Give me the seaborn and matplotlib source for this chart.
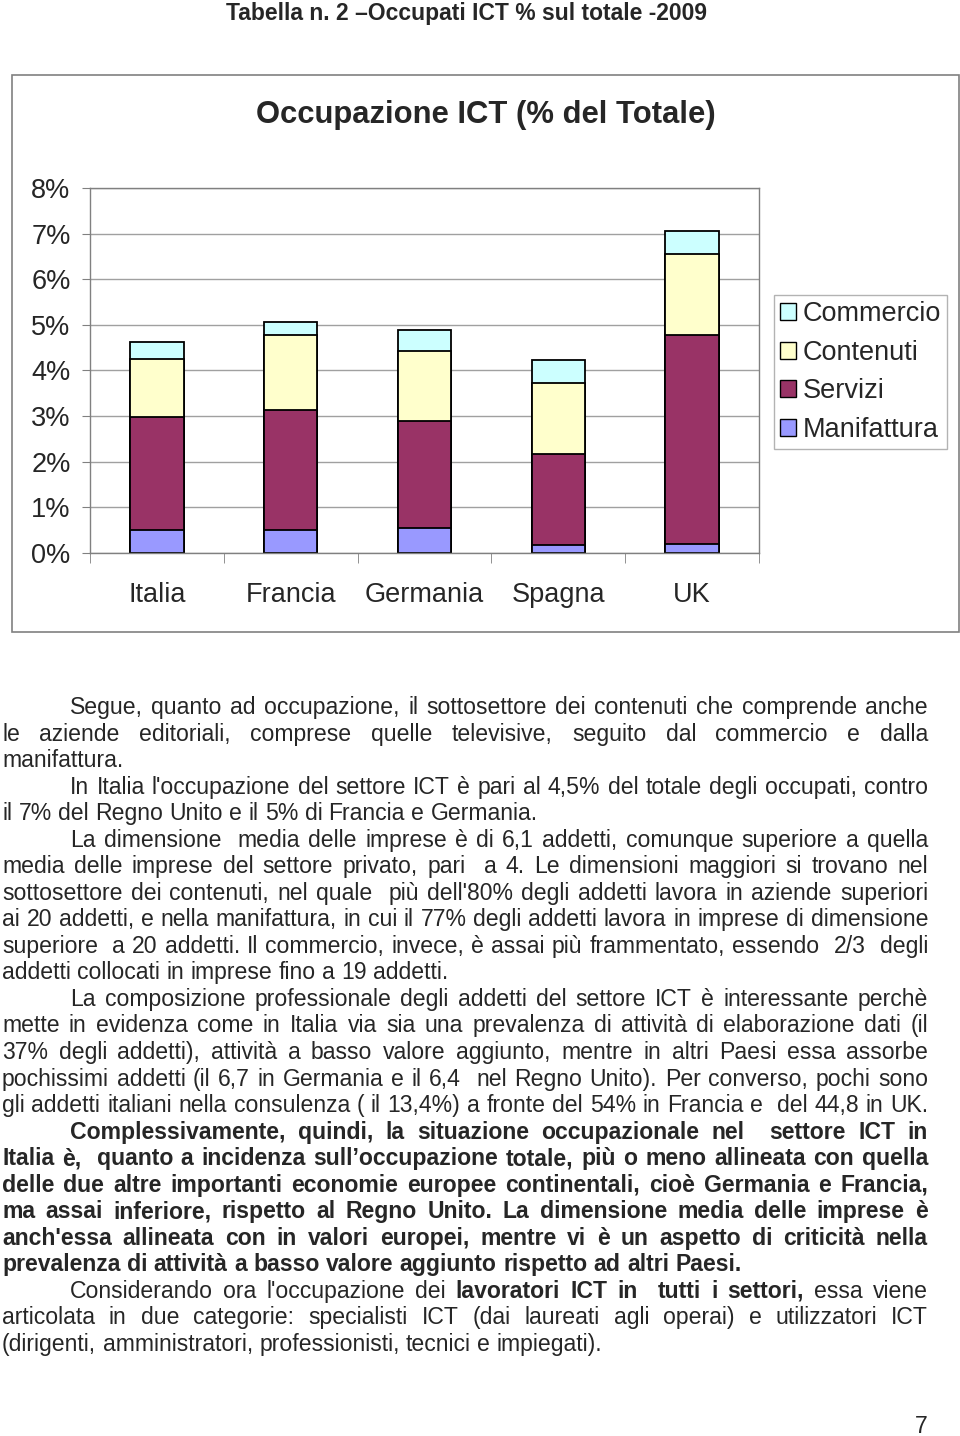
import numpy as np
import matplotlib
matplotlib.use("Agg")
import matplotlib.pyplot as plt
import seaborn as sns
from matplotlib.patches import Patch, Rectangle

# dati (% sul totale degli occupati, 2009)
paesi = ["Italia", "Francia", "Germania", "Spagna", "UK"]
manifattura = [0.50, 0.51, 0.54, 0.17, 0.20]
servizi = [2.48, 2.63, 2.36, 2.01, 4.58]
contenuti = [1.27, 1.63, 1.52, 1.54, 1.77]
commercio = [0.37, 0.30, 0.47, 0.51, 0.50]

settori = ["Commercio", "Contenuti", "Servizi", "Manifattura"]
colori = ["#CCFFFF", "#FFFFCC", "#993366", "#9999FF"]
y_ticks = list(range(9))
y_labels = [f"{v}%" for v in y_ticks]

titolo_pagina = "Tabella n. 2 \u2013Occupati ICT % sul totale -2009"
titolo_grafico = "Occupazione ICT (% del Totale)"

# testo della pagina: (riga, rientro, giustificata); ** = grassetto
righe = [
    ("Segue, quanto ad occupazione, il sottosettore dei contenuti che comprende anche", True, True),
    ("le aziende editoriali, comprese quelle televisive, seguito dal commercio e dalla", False, True),
    ("manifattura.", False, False),
    ("In Italia l'occupazione del settore ICT è pari al 4,5% del totale degli occupati, contro", True, True),
    ("il 7% del Regno Unito e il 5% di Francia e Germania.", False, False),
    ("La dimensione  media delle imprese è di 6,1 addetti, comunque superiore a quella", True, True),
    ("media delle imprese del settore privato, pari  a 4. Le dimensioni maggiori si trovano nel", False, True),
    ("sottosettore dei contenuti, nel quale  più dell'80% degli addetti lavora in aziende superiori", False, True),
    ("ai 20 addetti, e nella manifattura, in cui il 77% degli addetti lavora in imprese di dimensione", False, True),
    ("superiore  a 20 addetti. Il commercio, invece, è assai più frammentato, essendo  2/3  degli", False, True),
    ("addetti collocati in imprese fino a 19 addetti.", False, False),
    ("La composizione professionale degli addetti del settore ICT è interessante perchè", True, True),
    ("mette in evidenza come in Italia via sia una prevalenza di attività di elaborazione dati (il", False, True),
    ("37% degli addetti), attività a basso valore aggiunto, mentre in altri Paesi essa assorbe", False, True),
    ("pochissimi addetti (il 6,7 in Germania e il 6,4  nel Regno Unito). Per converso, pochi sono", False, True),
    ("gli addetti italiani nella consulenza ( il 13,4%) a fronte del 54% in Francia e  del 44,8 in UK.", False, True),
    ("**Complessivamente, quindi, la situazione occupazionale nel  settore ICT in**", True, True),
    ("**Italia è,  quanto a incidenza sull\u2019occupazione totale, più o meno allineata con quella**", False, True),
    ("**delle due altre importanti economie europee continentali, cioè Germania e Francia,**", False, True),
    ("**ma assai inferiore, rispetto al Regno Unito. La dimensione media delle imprese è**", False, True),
    ("**anch'essa allineata con in valori europei, mentre vi è un aspetto di criticità nella**", False, True),
    ("**prevalenza di attività a basso valore aggiunto rispetto ad altri Paesi.**", False, False),
    ("Considerando ora l'occupazione dei **lavoratori ICT in  tutti i settori,** essa viene", True, True),
    ("articolata in due categorie: specialisti ICT (dai laureati agli operai) e utilizzatori ICT", False, True),
    ("(dirigenti, amministratori, professionisti, tecnici e impiegati).", False, False),
]

W, H = 960, 1436
sns.set_style("white")
plt.rcParams["font.family"] = ["Liberation Sans", "DejaVu Sans"]


def fx(px):
    return px / W


def fy(py):
    return 1 - py / H


fig = plt.figure(figsize=(W / 100, H / 100), dpi=100)
renderer = fig.canvas.get_renderer()

# cornice del grafico
fig.patches.append(Rectangle((fx(12), fy(632)), (959 - 12) / W, (632 - 75) / H,
                             transform=fig.transFigure, fill=False,
                             edgecolor="#808080", lw=1.2))

ax = fig.add_axes([fx(90), fy(553), (759 - 90) / W, (553 - 188) / H])
ax.set_axisbelow(True)

strati = np.cumsum([manifattura, servizi, contenuti, commercio], axis=0)
for i in range(3, -1, -1):
    sns.barplot(x=paesi, y=strati[i], color=colori[3 - i], saturation=1,
                edgecolor="black", linewidth=1.3, width=0.4, errorbar=None, ax=ax)

ax.set_ylim(0, 8)
ax.set_xlim(-0.5, 4.5)
ax.set_yticks(y_ticks)
ax.set_yticklabels(y_labels)
ax.set_xticks(np.arange(-0.5, 5, 1), minor=True)
ax.yaxis.grid(True, color="#a0a0a0", lw=1)
ax.tick_params(axis="y", length=6, color="#808080", pad=8, labelsize=19.5, left=True)
ax.tick_params(axis="x", which="major", length=0, pad=21, labelsize=19.5)
ax.tick_params(axis="x", which="minor", length=7, color="#808080", bottom=True)
for s in ax.spines.values():
    s.set_color("#808080")
    s.set_linewidth(1)
ax.set_xlabel("")
ax.set_ylabel("")

handles = [Patch(facecolor=c, edgecolor="black", lw=1) for c in colori]
leg = ax.legend(handles, settori, loc="upper left",
                bbox_to_anchor=(fx(774), fy(295)), bbox_transform=fig.transFigure,
                fontsize=19.5, frameon=True, fancybox=False, edgecolor="#a0a0a0",
                handlelength=0.6, handleheight=0.6, handletextpad=0.25,
                labelspacing=0.47, borderpad=0.22, borderaxespad=0)
leg.get_frame().set_linewidth(1)

fig.text(fx(466), fy(20), titolo_pagina, ha="center", va="baseline",
         fontsize=16.5, fontweight="bold")
fig.text(fx(486), fy(123), titolo_grafico, ha="center", va="baseline",
         fontsize=22.3, fontweight="bold")

# testo giustificato
FS = 16.6


def larghezza(s, bold):
    t = fig.text(0, 0, s, fontsize=FS, fontweight="bold" if bold else "normal")
    w = t.get_window_extent(renderer).width
    t.remove()
    return w


def parole(riga):
    chars = []
    for k, parte in enumerate(riga.split("**")):
        chars += [(c, k % 2 == 1) for c in parte]
    out, cur = [], []
    for c, b in chars:
        if c == " ":
            out.append(cur)
            cur = []
        elif cur and cur[-1][1] == b:
            cur[-1][0] += c
        else:
            cur.append([c, b])
    out.append(cur)
    return out


spazio = larghezza("a a", False) - larghezza("aa", False)
y = 714
for riga, rientro, giust in righe:
    x0 = 70 if rientro else 2
    x1 = 928
    ws = parole(riga)
    larg = [sum(larghezza(t, b) for t, b in w) for w in ws]
    gap = (x1 - x0 - sum(larg)) / (len(ws) - 1) if giust and len(ws) > 1 else spazio
    x = x0
    for w in ws:
        for t, b in w:
            fig.text(fx(x), fy(y), t, fontsize=FS, ha="left", va="baseline",
                     fontweight="bold" if b else "normal")
            x += larghezza(t, b)
        x += gap
    y += 26.54

fig.text(fx(928), fy(1433), "7", ha="right", va="baseline", fontsize=FS)

fig.savefig("out.png", dpi=100)
